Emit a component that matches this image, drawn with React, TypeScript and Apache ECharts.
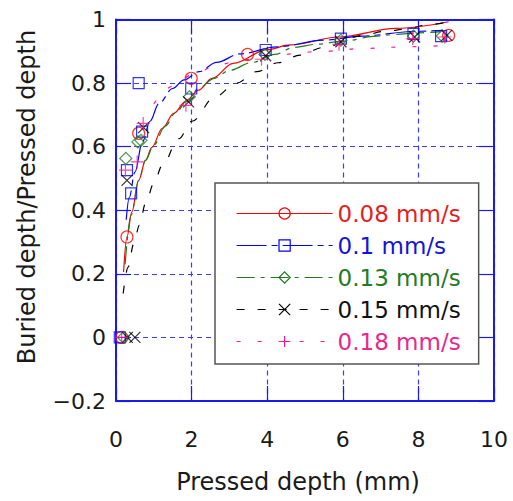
import React, { useEffect, useRef } from 'react';
import * as echarts from 'echarts';

// ---- data ----
const seriesNames = ['0.08 mm/s', '0.1 mm/s', '0.13 mm/s', '0.15 mm/s', '0.18 mm/s'];
const seriesColors = ['#ff0000', '#0000ff', '#1f7a1f', '#000000', '#ff1493'];
const textColors = ['#e41e1e', '#1414d8', '#257a25', '#111111', '#e8288c'];

const xTicks = [0, 2, 4, 6, 8, 10];
const yTicks = [-0.2, 0, 0.2, 0.4, 0.6, 0.8, 1];

// measured points
const redX = [0.15, 0.29, 0.6, 1.99, 3.48, 8.8];
const redY = [0, 0.316, 0.642, 0.815, 0.89, 0.95];
const blueX = [0.1, 0.29, 0.4, 0.6, 0.69, 1.99, 3.96, 5.95, 7.87, 8.6];
const blueY = [0, 0.526, 0.453, 0.8, 0.647, 0.783, 0.904, 0.94, 0.955, 0.948];
const greenX = [0.2, 0.26, 0.58, 0.66, 1.94, 3.94, 5.95, 7.87, 8.63];
const greenY = [0, 0.563, 0.615, 0.62, 0.757, 0.89, 0.935, 0.948, 0.948];
const blackX = [0.3, 0.5, 0.29, 0.73, 1.92, 3.96, 5.95, 7.9, 8.75];
const blackY = [0, 0, 0.494, 0.66, 0.741, 0.886, 0.93, 0.945, 0.95];
const pinkX = [0.15, 0.25, 0.56, 0.72, 1.85, 3.85, 5.9, 7.85, 8.7];
const pinkY = [0, 0.526, 0.552, 0.673, 0.73, 0.875, 0.922, 0.94, 0.945];

// fitted curves
const redFitX = [0.2, 0.29, 0.42, 0.6, 0.78, 0.95, 1.22, 1.53, 1.83, 2.19, 2.54, 3.1, 4.0, 4.6, 5.9, 7.4, 8.8];
const redFitY = [0.206, 0.316, 0.395, 0.494, 0.557, 0.598, 0.657, 0.705, 0.741, 0.778, 0.815, 0.862, 0.905, 0.92, 0.945, 0.972, 0.993];
const blueFitX = [0.27, 0.35, 0.5, 0.7, 0.9, 1.13, 1.5, 1.8, 2.2, 2.66, 3.28, 4.25, 5.5, 6.5, 7.95, 8.65];
const blueFitY = [0.37, 0.44, 0.52, 0.615, 0.68, 0.735, 0.783, 0.81, 0.836, 0.865, 0.892, 0.914, 0.935, 0.948, 0.963, 0.966];
const greenFitX = [0.24, 0.4, 0.6, 0.78, 1.0, 1.3, 1.6, 1.9, 2.2, 2.6, 3.0, 3.6, 4.2, 4.7, 5.3, 6.0, 6.9, 7.4, 8.0, 8.6];
const greenFitY = [0.23, 0.385, 0.494, 0.557, 0.605, 0.665, 0.71, 0.748, 0.785, 0.815, 0.84, 0.865, 0.89, 0.912, 0.922, 0.932, 0.948, 0.953, 0.958, 0.962];
const blackFitX = [0.19, 0.32, 0.47, 0.62, 0.78, 1.0, 1.22, 1.66, 2.01, 2.62, 3.19, 3.72, 4.29, 4.87, 5.48, 6.54, 7.07, 7.7, 8.2, 8.7];
const blackFitY = [0.138, 0.221, 0.295, 0.353, 0.421, 0.484, 0.54, 0.625, 0.68, 0.757, 0.8, 0.836, 0.864, 0.888, 0.912, 0.95, 0.962, 0.97, 0.983, 0.99];
const pinkFitX = [1.0, 1.5, 2.0, 2.7, 3.3, 4.34, 5.44, 6.54, 7.65, 8.7];
const pinkFitY = [0.735, 0.79, 0.825, 0.857, 0.873, 0.89, 0.9, 0.909, 0.914, 0.918];

const pointsX = [redX, blueX, greenX, blackX, pinkX];
const pointsY = [redY, blueY, greenY, blackY, pinkY];
const fitsX = [redFitX, blueFitX, greenFitX, blackFitX, pinkFitX];
const fitsY = [redFitY, blueFitY, greenFitY, blackFitY, pinkFitY];

// ---- styles ----
const X_SYMBOL = 'path://M0,0L10,10M10,0L0,10';
const PLUS_SYMBOL = 'path://M5,0L5,10M0,5L10,5';
const symbols = ['circle', 'rect', 'diamond', X_SYMBOL, PLUS_SYMBOL];
const symbolSizes = [12, 11, 12, 11, 13];
const dashes: any[] = ['solid', [30, 5, 6, 5], [18, 6, 4, 6], [8, 13], [4, 17]];
const FONT = 'DejaVu Sans';
const AXIS_BLUE = '#1a1aee';
const GRID_BLUE = '#3c3cff';

const zip = (xs: number[], ys: number[]) => xs.map((x, i) => [x, ys[i]]);

export default function App() {
  const ref = useRef<HTMLDivElement>(null);
  useEffect(() => {
    if (!ref.current) return;
    const chart = echarts.init(ref.current, undefined, { renderer: 'svg' });
    const series: any[] = [];
    seriesNames.forEach((name, i) => {
      series.push({
        type: 'line',
        name,
        data: zip(fitsX[i], fitsY[i]),
        smooth: 0.35,
        smoothMonotone: 'x',
        showSymbol: false,
        symbol: symbols[i],
        silent: true,
        lineStyle: { color: seriesColors[i], width: 1.2, type: dashes[i] },
        itemStyle: { color: seriesColors[i] },
        z: 2,
      });
    });
    seriesNames.forEach((name, i) => {
      series.push({
        type: 'scatter',
        name: name + ' data',
        data: zip(pointsX[i], pointsY[i]),
        symbol: symbols[i],
        symbolSize: symbolSizes[i],
        silent: true,
        itemStyle: { color: 'transparent', borderColor: seriesColors[i], borderWidth: 1.2 },
        z: 3,
      });
    });

    const labelFmt = (v: number) => String(Math.round(v * 10) / 10).replace('-', '\u2212');
    const splitStyle = () => ({ show: true, lineStyle: { color: GRID_BLUE, type: [5, 4], width: 1.2 } });
    const tickStyle = () => ({ show: true, inside: true, length: 15, lineStyle: { color: AXIS_BLUE, width: 1.2 } });
    const axLine = () => ({ show: true, onZero: false, lineStyle: { color: AXIS_BLUE, width: 2 } });

    chart.setOption({
      animation: false,
      backgroundColor: '#ffffff',
      grid: { left: 116, right: 19, top: 19.5, bottom: 100 },
      xAxis: [
        {
          type: 'value',
          min: xTicks[0],
          max: xTicks[xTicks.length - 1],
          interval: 2,
          position: 'bottom',
          axisLine: axLine(),
          axisTick: tickStyle(),
          axisLabel: { margin: 27, fontSize: 22, fontFamily: FONT, color: '#1a1a1a', formatter: labelFmt },
          splitLine: splitStyle(),
        },
        {
          type: 'value',
          min: xTicks[0],
          max: xTicks[xTicks.length - 1],
          interval: 2,
          position: 'top',
          axisLine: axLine(),
          axisTick: tickStyle(),
          axisLabel: { show: false },
          splitLine: { show: false },
        },
      ],
      yAxis: [
        {
          type: 'value',
          min: yTicks[0],
          max: yTicks[yTicks.length - 1],
          interval: 0.2,
          position: 'left',
          axisLine: axLine(),
          axisTick: tickStyle(),
          axisLabel: { margin: 10, fontSize: 22, fontFamily: FONT, color: '#1a1a1a', formatter: labelFmt },
          splitLine: splitStyle(),
        },
        {
          type: 'value',
          min: yTicks[0],
          max: yTicks[yTicks.length - 1],
          interval: 0.2,
          position: 'right',
          axisLine: axLine(),
          axisTick: tickStyle(),
          axisLabel: { show: false },
          splitLine: { show: false },
        },
      ],
      legend: {
        orient: 'vertical',
        left: 215,
        top: 183,
        itemWidth: 96,
        itemHeight: 14,
        itemGap: 9,
        selectedMode: false,
        padding: [19, 18, 11, 21],
        backgroundColor: '#ffffff',
        borderColor: '#555555',
        borderWidth: 1.5,
        borderRadius: 0,
        textStyle: { fontSize: 23, lineHeight: 23, fontFamily: FONT },
        data: seriesNames.map((name, i) => ({
          name,
          textStyle: { color: textColors[i], fontSize: 23, lineHeight: 23, fontFamily: FONT },
          itemStyle: { color: 'transparent', borderColor: seriesColors[i], borderWidth: 1.2 },
          lineStyle: { color: seriesColors[i], width: 1.2, type: dashes[i] },
        })),
        z: 10,
      },
      graphic: [
        {
          type: 'text',
          x: 298,
          y: 482,
          style: {
            text: 'Pressed depth (mm)',
            font: `24px "${FONT}"`,
            fill: '#1a1a1a',
            align: 'center',
            verticalAlign: 'middle',
          },
        },
        {
          type: 'text',
          x: 27,
          y: 197,
          rotation: Math.PI / 2,
          style: {
            text: 'Buried depth/Pressed depth',
            font: `24px "${FONT}"`,
            fill: '#1a1a1a',
            align: 'center',
            verticalAlign: 'middle',
          },
        },
      ],
      series,
    });
    return () => chart.dispose();
  }, []);
  return <div ref={ref} style={{ position: 'fixed', left: 0, top: 0, width: 513, height: 501 }} />;
}
